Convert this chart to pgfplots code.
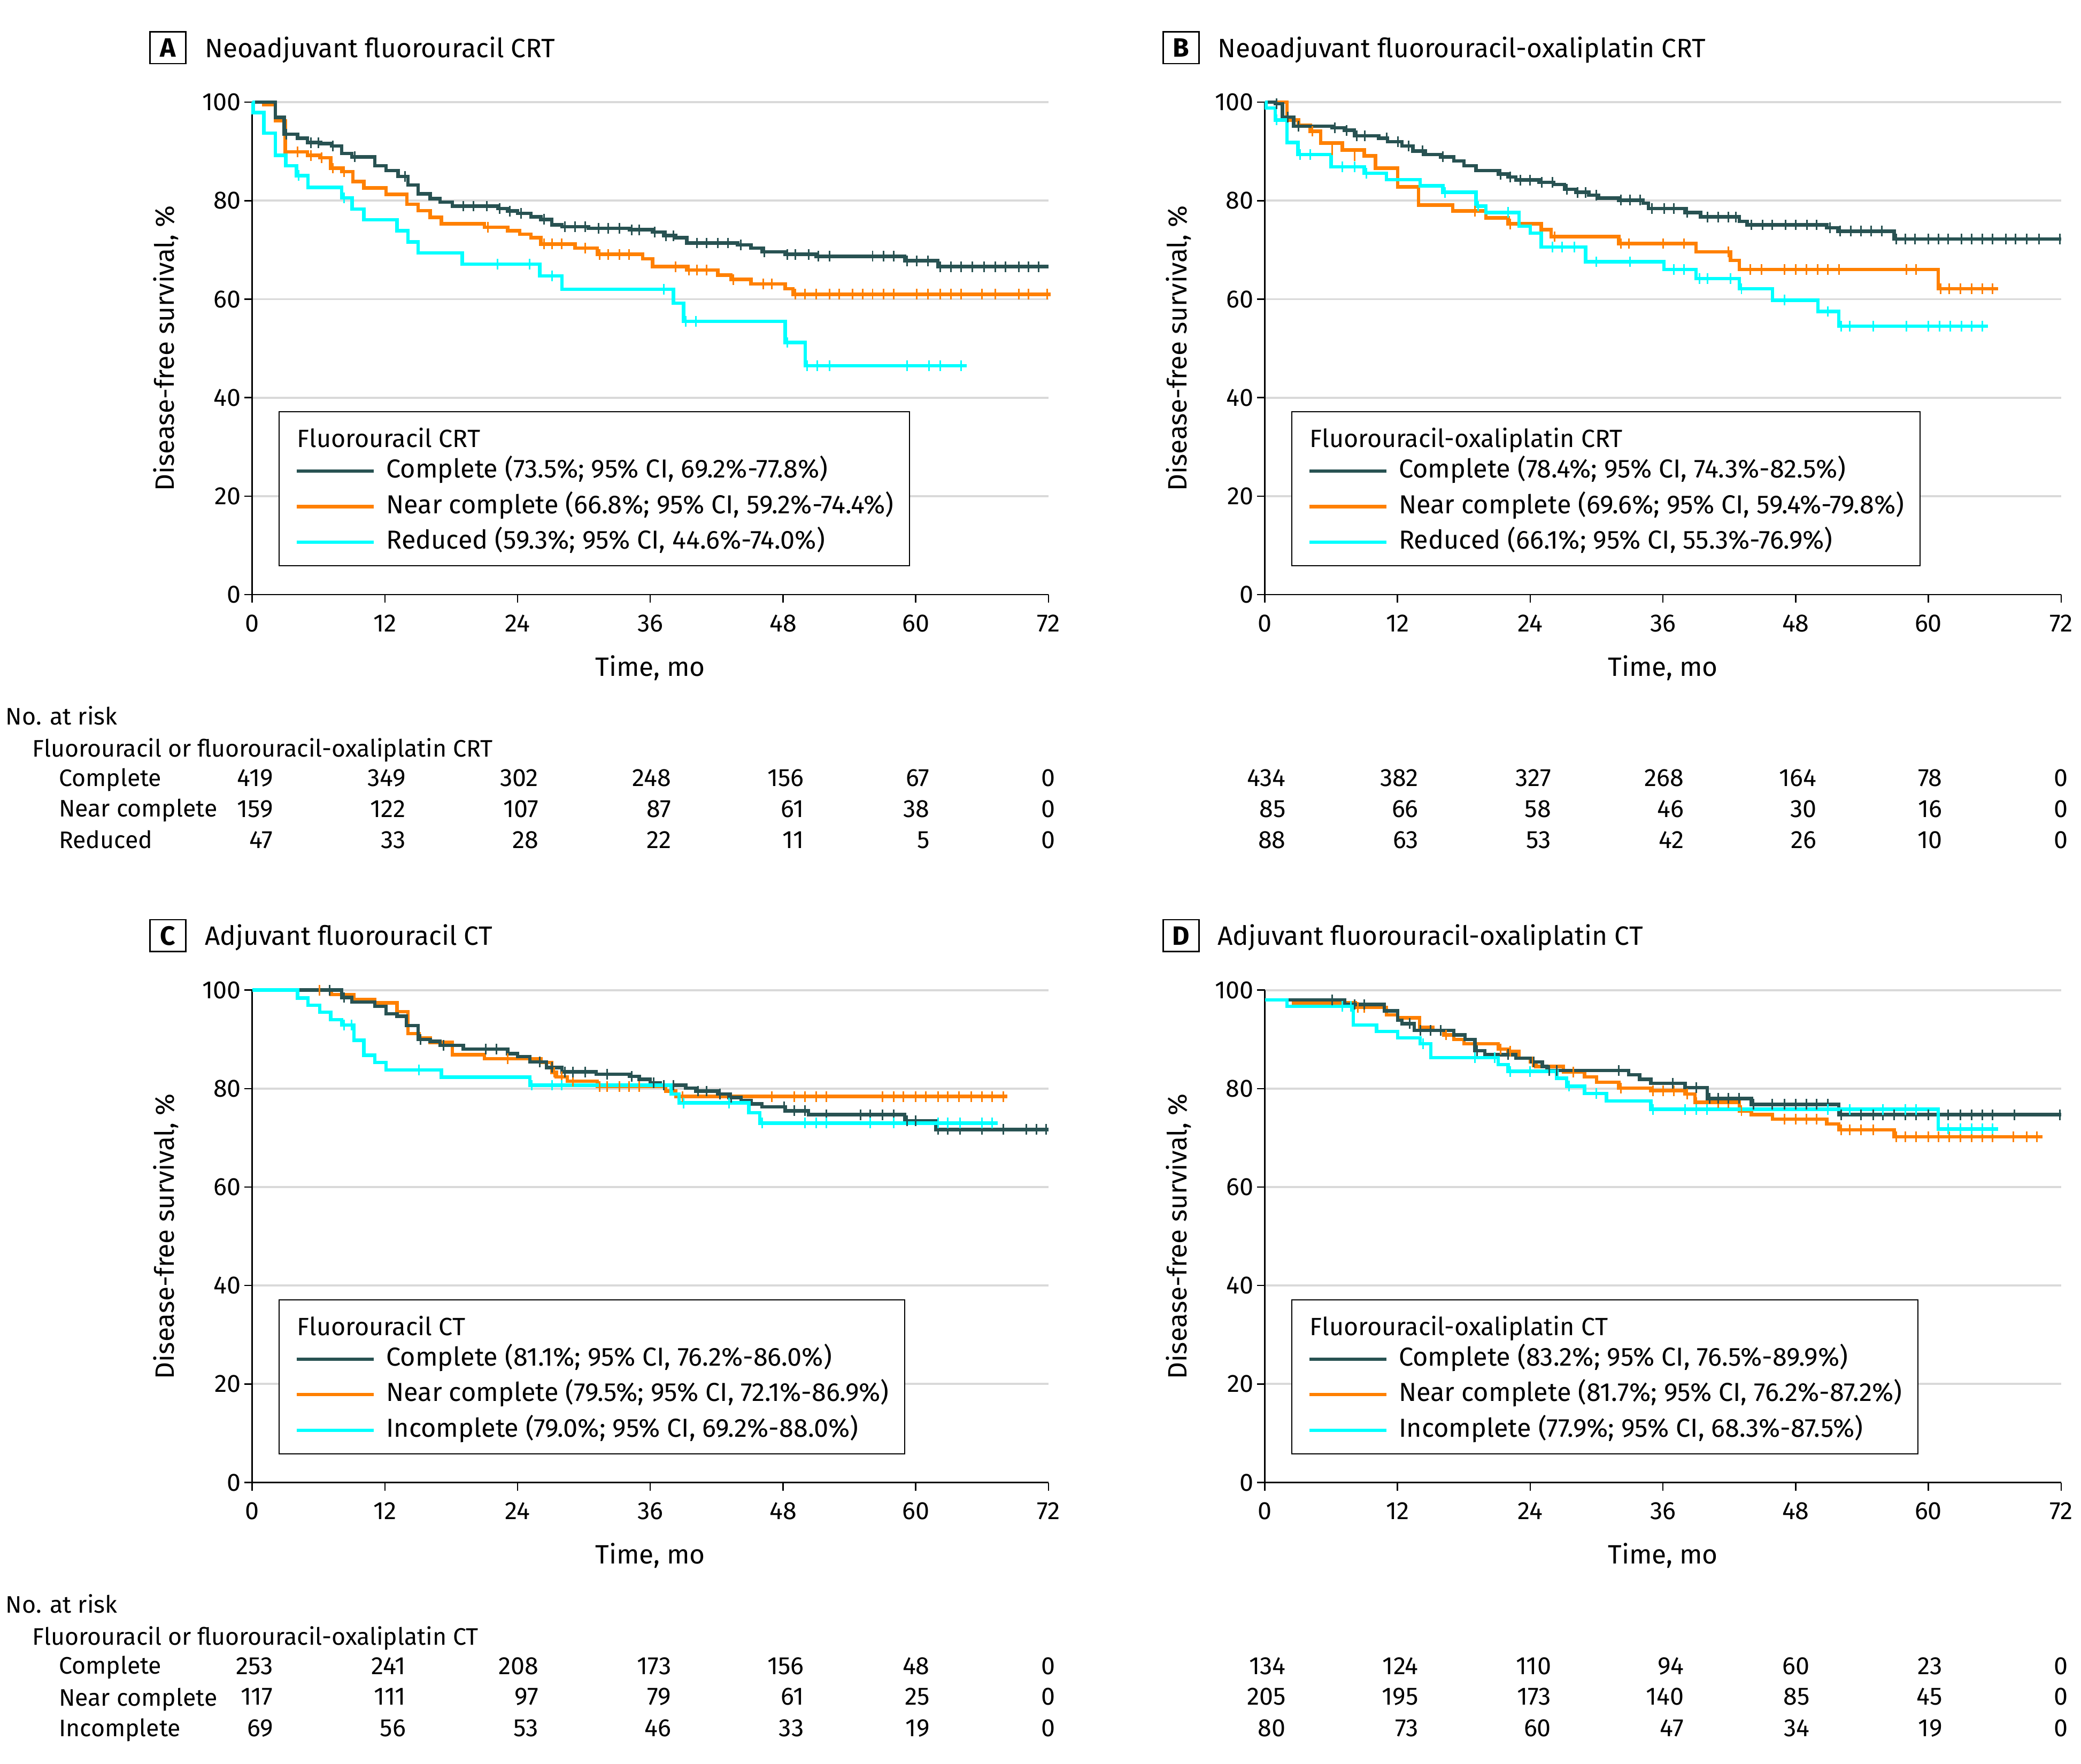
\documentclass[border=0pt]{standalone}
\usepackage{fontspec}
\setmainfont{Fira Sans}
\usepackage{calc}
\usepackage{pgfplots}
\pgfplotsset{compat=1.18}

\definecolor{cdark}{RGB}{40,82,82}
\definecolor{corange}{RGB}{255,128,0}
\definecolor{ccyan}{RGB}{0,255,255}

\newcommand\bodyfont{\fontsize{9.4}{11.3}\selectfont}
\newcommand\riskfont{\fontsize{9}{11}\selectfont}
\newcommand\legfont{\fontsize{9.8}{11.8}\selectfont}
\newcommand\labelfont{\fontsize{10}{12}\selectfont}
\newcommand\legtitle[1]{\hspace*{-33.5pt}\raisebox{-2pt}{\bodyfont #1}}

% one column of the numbers-at-risk table, right aligned, widest entry centred on the tick
\newcommand\rc[5]{%
  \node[rk] at (axis cs:#1,-37.5) {\makebox[\widthof{#2}][r]{#3}};
  \node[rk] at (axis cs:#1,-43.75) {\makebox[\widthof{#2}][r]{#4}};
  \node[rk] at (axis cs:#1,-50.15) {\makebox[\widthof{#2}][r]{#5}};}

\tikzset{
  rk/.style={font=\bodyfont, inner sep=0pt, anchor=mid},
  lab/.style={font=\riskfont, inner sep=0pt, anchor=mid west},
  ptitle/.style={font=\labelfont, inner sep=0pt, anchor=mid west},
  pbox/.style={draw, line width=0.5pt, minimum width=13.5pt, minimum height=12pt, inner sep=0pt, font=\labelfont\bfseries},
}

\pgfplotsset{
  kmaxis/.style={
    scale only axis, width=300pt, height=185.5pt, anchor=south west,
    xmin=0, xmax=72, ymin=0, ymax=100,
    xtick={0,12,...,72}, ytick={0,20,...,100},
    minor ytick={20,40,...,100}, yminorgrids, minor tick length=0pt,
    minor grid style={color=black!15, line width=0.8pt},
    axis x line*=bottom, axis y line*=left,
    axis line style={line width=0.5pt},
    tick align=outside, major tick length=3pt,
    tick style={black, line width=0.5pt},
    clip=false,
    tick label style={font=\bodyfont},
    yticklabel style={inner xsep=1pt},
    xticklabel style={yshift=-1pt},
    /pgf/number format/assume math mode=true,
    xlabel={Time, mo}, ylabel={Disease-free survival, \%},
    every axis x label/.style={at={(axis description cs:0.5,-0.1510)}, anchor=mid, font=\labelfont},
    every axis y label/.style={at={(axis description cs:-0.1083,0.5)}, rotate=90, anchor=center, font=\labelfont},
    legend style={at={(axis cs:2.4,37.2)}, anchor=north west, draw=black, line width=0.4pt,
      fill=white, font=\legfont, inner xsep=6pt, inner ysep=3.8pt, row sep=3.2pt, column sep=4pt,
      nodes={inner sep=0pt, text height=7.6pt, text depth=2.6pt}},
    legend cell align=left,
    legend image code/.code={\draw[#1, line width=1.3pt] (0pt,0pt) -- (29pt,0pt);},
  },
  km/.style={const plot, line width=1.3pt, forget plot},
  cens/.style={only marks, mark=|, mark size=2pt, forget plot, mark options={line width=0.6pt}},
}

\begin{document}
\begin{tikzpicture}
\useasboundingbox (0,0) rectangle (784pt,-664.5pt);

% ---------------- A ----------------
\begin{axis}[kmaxis, at={(95pt,-224pt)}]
\addplot[km, corange] coordinates {(0,100)(1.06,99.5)(2.1,96.2)(3.0,89.9)(5.0,89.2)(6.1,88.7)(7.1,86.6)(8.1,85.9)(9.1,83.9)(10.1,82.6)(12.1,81.3)(14.0,79.3)(15.0,78.0)(16.1,76.6)(17.1,75.3)(21.0,74.6)(23.1,73.9)(24.2,73.2)(25.2,72.5)(26.1,71.2)(29.2,70.4)(31.2,69.1)(35.3,68.2)(36.2,66.6)(39.3,65.9)(42.1,64.9)(43.3,64.0)(45.1,63.1)(48.2,62.1)(48.9,61.0)(72.2,61.0)};
\addplot[cens, corange] coordinates {(4.1,89.9)(5.3,89.2)(6.3,88.7)(7.3,86.6)(8.3,85.9)(21.3,74.6)(26.4,71.2)(27.1,71.2)(28.0,71.2)(30.1,70.4)(31.4,69.1)(32.2,69.1)(33.2,69.1)(34.1,69.1)(38.3,66.6)(39.5,65.9)(40.2,65.9)(41.1,65.9)(43.5,64.0)(46.2,63.1)(47.0,63.1)(49.1,61.0)(50.0,61.0)(51.0,61.0)(52.2,61.0)(53.1,61.0)(54.3,61.0)(55.2,61.0)(56.1,61.0)(57.1,61.0)(58.0,61.0)(60.1,61.0)(61.1,61.0)(62.2,61.0)(63.2,61.0)(64.1,61.0)(66.0,61.0)(67.2,61.0)(69.3,61.0)(70.2,61.0)(71.9,61.0)};
\addplot[km, cdark] coordinates {(0,100)(2.1,96.9)(2.9,93.5)(4.1,92.7)(5.0,91.8)(6.2,91.6)(7.2,91.1)(8.1,89.6)(9.0,88.9)(11.1,87.1)(12.1,86.1)(13.2,84.9)(14.1,83.2)(15.0,81.4)(16.1,80.4)(17.0,79.7)(18.1,78.9)(22.2,78.4)(23.1,77.9)(24.0,77.4)(25.2,76.7)(26.1,76.2)(27.1,75.1)(28.0,74.7)(30.4,74.4)(34.1,74.1)(36.2,73.6)(37.2,72.9)(38.3,72.5)(39.3,71.4)(43.9,71.0)(45.1,70.4)(46.1,69.6)(48.2,69.1)(51.0,68.7)(59.0,67.8)(62.0,66.6)(72,66.6)};
\addplot[cens, cdark] coordinates {(3.1,93.5)(5.3,91.8)(6.0,91.8)(7.3,91.1)(9.3,88.9)(13.8,84.9)(19.1,78.9)(20.0,78.9)(21.2,78.9)(22.4,78.4)(23.3,77.9)(24.3,77.4)(26.4,76.2)(28.3,74.7)(29.2,74.7)(30.1,74.7)(31.3,74.4)(32.2,74.4)(33.2,74.4)(34.3,74.1)(35.0,74.1)(36.4,73.6)(37.4,72.9)(38.1,72.9)(40.2,71.4)(41.1,71.4)(42.1,71.4)(43.0,71.4)(44.2,71.0)(46.3,69.6)(48.4,69.1)(49.1,69.1)(50.3,69.1)(51.2,68.7)(52.2,68.7)(56.1,68.7)(57.1,68.7)(58.0,68.7)(59.2,67.8)(60.1,67.8)(61.1,67.8)(62.2,66.6)(63.2,66.6)(64.1,66.6)(65.1,66.6)(66.2,66.6)(67.2,66.6)(68.1,66.6)(69.3,66.6)(70.2,66.6)(71.1,66.6)};
\addplot[km, ccyan] coordinates {(0,100)(0.1,97.9)(1.06,93.7)(2.09,89.2)(3.03,87.1)(4.01,85.1)(5.05,82.7)(8.1,80.6)(9.03,78.3)(10.1,76.1)(13.1,73.9)(14.1,71.6)(15.0,69.4)(19.0,67.1)(26.0,64.7)(28.0,62.0)(38.1,59.2)(39.0,55.5)(48.2,51.2)(50.0,46.5)(64.6,46.5)};
\addplot[cens, ccyan] coordinates {(4.2,85.1)(8.3,80.6)(22.2,67.1)(25.1,67.1)(27.1,64.7)(37.2,62.0)(39.2,55.5)(40.1,55.5)(48.4,51.2)(50.2,46.5)(51.1,46.5)(52.2,46.5)(59.2,46.5)(61.2,46.5)(62.2,46.5)(64.1,46.5)};
\addlegendimage{empty legend}\addlegendentry{\legtitle{Fluorouracil CRT}}
\addlegendimage{cdark}\addlegendentry{Complete (73.5\%; 95\% CI, 69.2\%-77.8\%)}
\addlegendimage{corange}\addlegendentry{Near complete (66.8\%; 95\% CI, 59.2\%-74.4\%)}
\addlegendimage{ccyan}\addlegendentry{Reduced (59.3\%; 95\% CI, 44.6\%-74.0\%)}
\rc{0}{000}{419}{159}{47}
\rc{12}{000}{349}{122}{33}
\rc{24}{000}{302}{107}{28}
\rc{36}{000}{248}{87}{22}
\rc{48}{000}{156}{61}{11}
\rc{60}{00}{67}{38}{5}
\rc{72}{0}{0}{0}{0}
\end{axis}

% ---------------- B ----------------
\begin{axis}[kmaxis, at={(476.5pt,-224pt)}]
\addplot[km, corange] coordinates {(0,100)(2.0,96.4)(3.04,95.3)(4.1,94.1)(5.05,91.7)(7.0,90.3)(9.0,89.1)(10.0,86.6)(12.0,82.8)(13.9,79.1)(17.0,77.9)(20.0,76.5)(22.0,75.3)(25.0,74.1)(25.9,72.7)(32.0,71.3)(39.0,69.6)(42.1,67.9)(42.9,66.0)(60.9,62.1)(66.3,62.1)};
\addplot[cens, corange] coordinates {(4.3,94.1)(6.1,90.3)(8.1,89.1)(19.0,77.9)(22.2,75.3)(26.2,72.7)(32.2,71.3)(32.9,71.3)(36.0,71.3)(37.9,71.3)(41.9,69.6)(43.9,66.0)(44.9,66.0)(47.0,66.0)(48.0,66.0)(48.95,66.0)(50.0,66.0)(50.9,66.0)(51.9,66.0)(58.0,66.0)(58.9,66.0)(61.1,62.1)(61.9,62.1)(62.9,62.1)(63.9,62.1)(64.9,62.1)(65.8,62.1)};
\addplot[km, cdark] coordinates {(0,100)(0.93,99.7)(1.6,97.0)(2.6,95.1)(6.1,94.8)(7.2,94.3)(8.1,93.2)(10.3,92.7)(11.1,92.0)(12.4,91.1)(13.4,90.1)(14.5,89.4)(15.9,88.9)(17.1,88.1)(18.0,87.1)(19.1,86.1)(21.1,85.4)(22.0,84.8)(22.7,84.2)(24.8,83.7)(26.1,83.3)(27.1,82.3)(28.1,81.7)(29.3,81.1)(30.2,80.5)(32.0,80.1)(34.2,79.5)(34.7,78.4)(38.0,77.6)(39.4,76.7)(42.9,75.8)(43.6,75.1)(50.8,74.5)(51.8,73.8)(56.9,72.2)(72,72.2)};
\addplot[cens, cdark] coordinates {(1.07,99.7)(2.1,97.0)(3.04,95.1)(6.32,94.8)(7.4,94.3)(8.3,93.2)(9.04,93.2)(11.0,92.7)(12.03,92.0)(13.0,91.1)(14.28,90.1)(16.1,88.9)(21.3,85.4)(22.2,84.8)(23.09,84.2)(24.0,84.2)(25.06,83.7)(26.0,83.7)(27.3,82.3)(28.3,81.7)(29.0,81.7)(29.98,81.1)(32.2,80.1)(33.0,80.1)(33.96,80.1)(35.0,78.4)(36.1,78.4)(37.0,78.4)(38.2,77.6)(40.05,76.7)(41.0,76.7)(41.9,76.7)(42.6,76.7)(44.0,75.1)(45.0,75.1)(45.9,75.1)(47.1,75.1)(48.0,75.1)(49.0,75.1)(49.9,75.1)(51.1,74.5)(52.0,73.8)(53.0,73.8)(53.9,73.8)(54.8,73.8)(55.8,73.8)(57.1,72.2)(57.9,72.2)(58.8,72.2)(60.0,72.2)(60.9,72.2)(61.8,72.2)(63.0,72.2)(63.9,72.2)(64.9,72.2)(65.8,72.2)(67.0,72.2)(67.9,72.2)(68.9,72.2)(70.0,72.2)(71.9,72.2)};
\addplot[km, ccyan] coordinates {(0,100)(0.13,98.8)(0.93,96.4)(2.0,91.8)(3.0,89.4)(6.0,86.9)(9.0,85.6)(11.0,84.3)(14.05,83.0)(16.1,81.7)(19.1,78.9)(20.0,77.6)(23.0,74.8)(24.0,73.4)(25.0,70.6)(29.0,67.6)(36.1,66.0)(39.0,64.2)(42.9,62.1)(45.9,59.8)(50.0,57.5)(51.9,54.5)(65.4,54.5)};
\addplot[cens, ccyan] coordinates {(1.07,96.4)(3.2,89.4)(4.1,89.4)(7.0,86.9)(8.1,86.9)(9.2,85.6)(16.3,81.7)(19.3,78.9)(22.0,77.6)(26.0,70.6)(26.9,70.6)(28.0,70.6)(29.98,67.6)(33.0,67.6)(37.0,66.0)(37.9,66.0)(39.3,64.2)(40.05,64.2)(42.1,64.2)(43.1,62.1)(47.0,59.8)(50.9,57.5)(52.1,54.5)(52.9,54.5)(55.0,54.5)(58.0,54.5)(60.0,54.5)(61.0,54.5)(62.0,54.5)(63.0,54.5)(63.9,54.5)(64.9,54.5)};
\addlegendimage{empty legend}\addlegendentry{\legtitle{Fluorouracil-oxaliplatin CRT}}
\addlegendimage{cdark}\addlegendentry{Complete (78.4\%; 95\% CI, 74.3\%-82.5\%)}
\addlegendimage{corange}\addlegendentry{Near complete (69.6\%; 95\% CI, 59.4\%-79.8\%)}
\addlegendimage{ccyan}\addlegendentry{Reduced (66.1\%; 95\% CI, 55.3\%-76.9\%)}
\rc{0}{000}{434}{85}{88}
\rc{12}{000}{382}{66}{63}
\rc{24}{000}{327}{58}{53}
\rc{36}{000}{268}{46}{42}
\rc{48}{000}{164}{30}{26}
\rc{60}{00}{78}{16}{10}
\rc{72}{0}{0}{0}{0}
\end{axis}

% ---------------- C ----------------
\begin{axis}[kmaxis, at={(95pt,-558.5pt)}]
\addplot[km, corange] coordinates {(0,100)(7.15,99.1)(9.2,98.1)(11.1,97.4)(13.1,95.6)(14.1,91.2)(15.1,90.3)(16.1,89.4)(18.1,86.9)(21.0,86.1)(26.1,85.3)(27.1,83.3)(27.5,82.4)(28.5,81.5)(31.2,80.4)(37.4,79.5)(38.3,78.4)(68.3,78.4)};
\addplot[cens, corange] coordinates {(6.1,100)(23.1,86.1)(27.3,83.3)(28.0,82.4)(29.0,81.5)(31.4,80.4)(32.1,80.4)(33.2,80.4)(34.1,80.4)(35.0,80.4)(38.9,78.4)(47.0,78.4)(49.0,78.4)(50.0,78.4)(51.0,78.4)(51.9,78.4)(57.0,78.4)(58.0,78.4)(58.9,78.4)(60.0,78.4)(60.9,78.4)(62.0,78.4)(62.9,78.4)(63.9,78.4)(65.0,78.4)(66.0,78.4)(66.9,78.4)(67.9,78.4)};
\addplot[km, cdark] coordinates {(0,100)(8.1,98.5)(9.0,97.6)(11.1,96.7)(12.1,95.2)(13.1,94.7)(13.95,92.8)(15.0,90.0)(16.1,89.6)(17.0,88.8)(19.1,88.0)(23.1,87.1)(24.0,86.5)(25.1,85.4)(26.6,84.3)(28.0,83.4)(31.1,82.9)(34.1,82.5)(35.0,81.9)(36.0,81.2)(36.9,80.7)(39.2,80.1)(40.1,79.5)(42.1,78.9)(43.1,78.2)(44.2,77.6)(45.1,76.9)(46.1,76.3)(48.2,75.5)(50.3,74.7)(59.0,73.5)(61.8,71.7)(72,71.7)};
\addplot[cens, cdark] coordinates {(7.0,100)(8.3,98.5)(15.2,90.0)(17.3,88.8)(21.1,88.0)(22.1,88.0)(26.0,85.4)(27.1,84.3)(28.3,83.4)(29.0,83.4)(30.1,83.4)(32.1,82.9)(34.3,82.5)(36.3,81.2)(37.2,80.7)(38.1,80.7)(40.3,79.5)(41.1,79.5)(42.3,78.9)(43.3,78.2)(48.1,76.3)(49.0,75.5)(50.0,75.5)(51.9,74.7)(55.0,74.7)(55.9,74.7)(57.0,74.7)(58.0,74.7)(59.2,73.5)(60.0,73.5)(62.0,71.7)(62.9,71.7)(64.0,71.7)(66.0,71.7)(67.9,71.7)(70.0,71.7)(70.9,71.7)(71.8,71.7)};
\addplot[km, ccyan] coordinates {(0,100)(4.1,98.4)(5.05,96.9)(6.1,95.5)(7.1,94.0)(8.1,92.9)(9.2,89.8)(10.1,86.8)(11.1,85.3)(12.1,83.8)(17.1,82.3)(25.1,80.7)(37.9,78.9)(38.6,77.1)(44.9,75.1)(45.9,73.0)(67.4,73.0)};
\addplot[cens, ccyan] coordinates {(8.3,92.9)(9.0,92.9)(15.1,83.8)(25.3,80.7)(27.1,80.7)(28.0,80.7)(39.0,77.1)(43.1,77.1)(46.1,73.0)(50.0,73.0)(51.0,73.0)(51.9,73.0)(55.9,73.0)(58.0,73.0)(62.0,73.0)(62.9,73.0)(64.0,73.0)(66.0,73.0)(66.9,73.0)};
\addlegendimage{empty legend}\addlegendentry{\legtitle{Fluorouracil CT}}
\addlegendimage{cdark}\addlegendentry{Complete (81.1\%; 95\% CI, 76.2\%-86.0\%)}
\addlegendimage{corange}\addlegendentry{Near complete (79.5\%; 95\% CI, 72.1\%-86.9\%)}
\addlegendimage{ccyan}\addlegendentry{Incomplete (79.0\%; 95\% CI, 69.2\%-88.0\%)}
\rc{0}{000}{253}{117}{69}
\rc{12}{000}{241}{111}{56}
\rc{24}{000}{208}{97}{53}
\rc{36}{000}{173}{79}{46}
\rc{48}{000}{156}{61}{33}
\rc{60}{00}{48}{25}{19}
\rc{72}{0}{0}{0}{0}
\end{axis}

% ---------------- D ----------------
\begin{axis}[kmaxis, at={(476.5pt,-558.5pt)}]
\addplot[km, corange] coordinates {(0,98.0)(2.6,97.4)(8.2,96.5)(11.0,95.0)(12.0,94.4)(14.0,92.5)(15.2,91.8)(16.2,90.9)(17.1,90.0)(18.0,89.1)(21.1,88.0)(22.0,87.6)(23.0,86.2)(24.0,85.4)(24.5,84.5)(27.0,83.4)(28.9,82.4)(30.0,81.3)(32.0,80.1)(34.9,79.6)(38.0,78.9)(38.9,77.2)(42.9,75.5)(44.0,74.7)(45.9,73.8)(50.8,72.8)(51.9,71.6)(56.9,70.2)(70.3,70.2)};
\addplot[cens, corange] coordinates {(8.4,96.5)(9.0,96.5)(16.4,90.9)(21.3,88.0)(22.2,87.6)(24.2,85.4)(27.9,83.4)(32.2,80.1)(35.1,79.6)(36.0,79.6)(37.0,79.6)(38.2,78.9)(39.0,77.2)(41.0,77.2)(41.9,77.2)(43.1,75.5)(47.0,73.8)(48.0,73.8)(48.95,73.8)(49.9,73.8)(52.1,71.6)(52.9,71.6)(53.9,71.6)(55.0,71.6)(57.1,70.2)(57.9,70.2)(58.9,70.2)(60.0,70.2)(60.9,70.2)(61.9,70.2)(62.9,70.2)(63.9,70.2)(64.9,70.2)(65.8,70.2)(67.7,70.2)(68.9,70.2)(69.8,70.2)};
\addplot[km, cdark] coordinates {(0,98.0)(7.2,97.1)(10.8,95.8)(12.0,93.9)(12.4,93.2)(13.5,91.8)(17.1,90.9)(18.1,90.0)(19.0,87.7)(19.9,86.9)(22.7,86.2)(24.1,85.4)(25.1,84.5)(25.5,83.7)(32.9,82.8)(33.9,81.9)(34.9,81.1)(38.0,80.2)(40.0,78.0)(44.0,76.8)(51.9,74.7)(72,74.7)};
\addplot[cens, cdark] coordinates {(6.1,98.0)(8.1,97.1)(9.0,97.1)(13.1,93.2)(14.05,91.8)(15.0,91.8)(15.9,91.8)(19.2,87.7)(22.0,86.9)(24.3,85.4)(25.7,83.7)(26.4,83.7)(32.0,83.7)(36.9,81.1)(39.0,80.2)(40.2,78.0)(41.0,78.0)(41.9,78.0)(42.9,78.0)(44.2,76.8)(45.9,76.8)(47.0,76.8)(48.0,76.8)(48.95,76.8)(49.9,76.8)(50.9,76.8)(52.1,74.7)(53.9,74.7)(55.0,74.7)(55.9,74.7)(56.9,74.7)(57.9,74.7)(58.9,74.7)(60.0,74.7)(61.8,74.7)(62.9,74.7)(63.9,74.7)(64.9,74.7)(65.8,74.7)(67.8,74.7)(71.9,74.7)};
\addplot[km, ccyan] coordinates {(0,98.0)(2.0,96.7)(8.0,92.9)(10.1,91.6)(12.0,90.3)(14.05,89.1)(15.0,86.3)(21.1,84.9)(22.0,83.5)(26.4,82.1)(27.3,80.5)(28.9,79.0)(30.9,77.5)(34.9,75.8)(60.9,71.8)(66.3,71.8)};
\addplot[cens, ccyan] coordinates {(7.0,96.7)(7.8,96.7)(14.3,89.1)(19.0,86.3)(20.8,86.3)(22.2,83.5)(24.0,83.5)(27.5,80.5)(29.98,79.0)(35.1,75.8)(38.0,75.8)(39.0,75.8)(40.0,75.8)(50.9,75.8)(52.9,75.8)(55.9,75.8)(57.9,75.8)(58.9,75.8)(61.8,71.8)(62.9,71.8)(63.9,71.8)(64.9,71.8)(65.8,71.8)};
\addlegendimage{empty legend}\addlegendentry{\legtitle{Fluorouracil-oxaliplatin CT}}
\addlegendimage{cdark}\addlegendentry{Complete (83.2\%; 95\% CI, 76.5\%-89.9\%)}
\addlegendimage{corange}\addlegendentry{Near complete (81.7\%; 95\% CI, 76.2\%-87.2\%)}
\addlegendimage{ccyan}\addlegendentry{Incomplete (77.9\%; 95\% CI, 68.3\%-87.5\%)}
\rc{0}{000}{134}{205}{80}
\rc{12}{000}{124}{195}{73}
\rc{24}{000}{110}{173}{60}
\rc{36}{000}{94}{140}{47}
\rc{48}{00}{60}{85}{34}
\rc{60}{00}{23}{45}{19}
\rc{72}{0}{0}{0}{0}
\end{axis}

% panel titles
\node[pbox] at (63.25pt,-18pt) {A};
\node[ptitle] at (77pt,-19pt) {Neoadjuvant fluorouracil CRT};
\node[pbox] at (445pt,-18pt) {B};
\node[ptitle] at (458.5pt,-19pt) {Neoadjuvant fluorouracil-oxaliplatin CRT};
\node[pbox] at (63.25pt,-352.5pt) {C};
\node[ptitle] at (77pt,-353.5pt) {Adjuvant fluorouracil CT};
\node[pbox] at (445pt,-352.5pt) {D};
\node[ptitle] at (458.5pt,-353.5pt) {Adjuvant fluorouracil-oxaliplatin CT};

% numbers-at-risk row labels
\node[lab] at (2pt,-270.5pt) {No. at risk};
\node[lab] at (12pt,-282.5pt) {Fluorouracil or fluorouracil-oxaliplatin CRT};
\node[lab] at (22pt,-293.5pt) {Complete};
\node[lab] at (22pt,-305pt) {Near complete};
\node[lab] at (22pt,-317pt) {Reduced};
\node[lab] at (2pt,-605pt) {No. at risk};
\node[lab] at (12pt,-617pt) {Fluorouracil or fluorouracil-oxaliplatin CT};
\node[lab] at (22pt,-628pt) {Complete};
\node[lab] at (22pt,-640pt) {Near complete};
\node[lab] at (22pt,-651.5pt) {Incomplete};
\end{tikzpicture}
\end{document}
